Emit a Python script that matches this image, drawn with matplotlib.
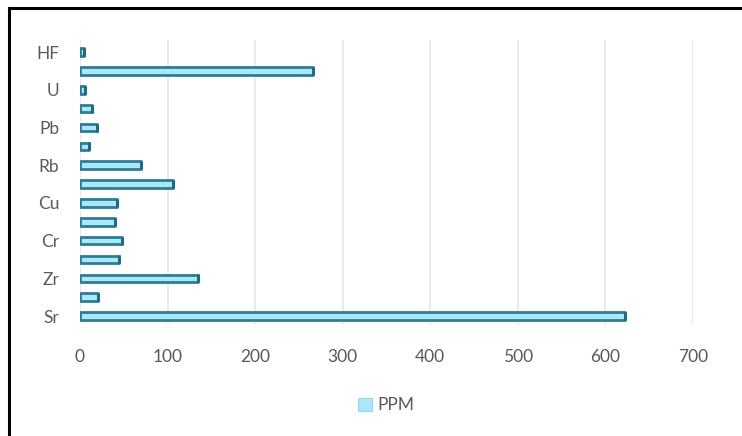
import matplotlib.pyplot as plt
from matplotlib.lines import Line2D

# trace element concentrations, bottom to top
elements = ["Sr", "Y", "Zr", "Ni", "Cr", "Co", "Cu", "Zn", "Rb", "Th", "Pb", "Nb", "U", "Ba", "HF"]
ppm = [622, 21, 135, 45, 48, 40, 42, 106, 70, 10, 20, 14, 6, 266, 5]
x_ticks = [0, 100, 200, 300, 400, 500, 600, 700]

plt.rcParams["font.family"] = ["Lato", "DejaVu Sans"]
grey = "#595959"

fig = plt.figure(figsize=(7.42, 4.36), dpi=100)
ax = fig.add_axes([0.1078, 0.257, 0.826, 0.651])

ypos = list(range(len(elements)))
ax.barh(ypos, ppm, height=0.4, color="#A9E8F7", edgecolor="#2F7D95",
        linewidth=2.0, joinstyle="round", zorder=3, label="PPM")
# darker rim at the end of each cylinder
ax.scatter(ppm, ypos, marker="|", s=40, linewidths=2.2, color="#226A80", zorder=4)

ax.set_xlim(0, 700)
ax.set_ylim(-0.42, 14.64)
ax.set_xticks(x_ticks)
ax.set_xticklabels([str(t) for t in x_ticks], color=grey, fontsize=12.5)
ax.set_yticks(ypos[::2])
ax.set_yticklabels(elements[::2], color=grey, fontsize=12.5)
ax.tick_params(length=0)
ax.tick_params(axis="x", pad=18)
ax.tick_params(axis="y", pad=15)
ax.grid(axis="x", color="#E6E6E6", linewidth=1.2, zorder=0)
for s in ax.spines.values():
    s.set_visible(False)

leg = fig.legend(loc="center", bbox_to_anchor=(0.52, 0.07), frameon=False,
                 fontsize=12.5, handlelength=0.8, handleheight=0.8, handletextpad=0.3)
for t in leg.get_texts():
    t.set_color(grey)
for h in leg.legend_handles:
    h.set_edgecolor("#8FD8EE")
    h.set_linewidth(0.8)

# frame lines along the left and top edge
fig.add_artist(Line2D([0.0122, 0.0122], [0, 0.982], transform=fig.transFigure, color="black", linewidth=2.2))
fig.add_artist(Line2D([0.0122, 1], [0.982, 0.982], transform=fig.transFigure, color="black", linewidth=2.2))

fig.savefig("out.png", dpi=100)
